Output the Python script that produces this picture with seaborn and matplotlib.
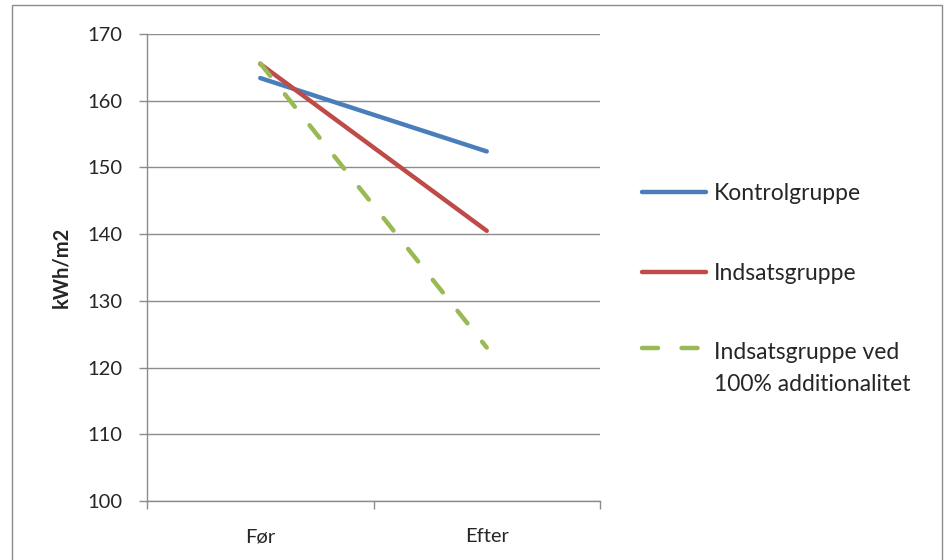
import matplotlib
matplotlib.use("Agg")
import matplotlib.pyplot as plt
import seaborn as sns
import pandas as pd
import numpy as np
from matplotlib.patches import Rectangle
from matplotlib.legend_handler import HandlerLine2D

categories = ["Før", "Efter"]
series_names = ["Kontrolgruppe", "Indsatsgruppe", "Indsatsgruppe ved\n100% additionalitet"]
kontrol = [163.4, 152.4]
indsats = [165.5, 140.5]
additional = [165.6, 123.0]
y_ticks = [100, 110, 120, 130, 140, 150, 160, 170]

rows = []
for name, vals in zip(series_names, [kontrol, indsats, additional]):
    for c, v in zip(categories, vals):
        rows.append({"periode": c, "kWh": v, "serie": name})
df = pd.DataFrame(rows)

sns.set_theme(style="white")
plt.rcParams["font.family"] = ["Lato", "DejaVu Sans"]

fig = plt.figure(figsize=(9.47, 5.6), dpi=100)
ax = fig.add_axes([147/947, 1 - 501/560, (600-147)/947, (501-34)/560])

LW = 3.2
colors = ["#4A7EBB", "#BE4B48", "#98B954"]
styles = ["solid", "solid", (0, (3.6, 5.3))]
for name, col, ls in zip(series_names, colors, styles):
    sub = df[df["serie"] == name]
    sns.lineplot(data=sub, x="periode", y="kWh", ax=ax, color=col, lw=LW,
                 label=name, sort=False)
    line = ax.get_lines()[-1]
    line.set_linestyle(ls)
    line.set_solid_capstyle("round")
    line.set_dash_capstyle("round")

ax.set_xlim(-0.5, 1.5)
ax.set_ylim(100, 170)
ax.set_yticks(y_ticks)
ax.set_xticks([0, 1])
ax.set_xticklabels(categories)
ax.set_xticks([-0.5, 0.5, 1.5], minor=True)
ax.grid(axis="y", color="#8C8C8C", lw=1.0)
ax.set_axisbelow(True)
for s in ["top", "right"]:
    ax.spines[s].set_visible(False)
for s in ["left", "bottom"]:
    ax.spines[s].set_color("#8C8C8C")
    ax.spines[s].set_linewidth(1.0)
ax.tick_params(axis="y", which="major", direction="out", length=6, color="#8C8C8C",
               width=1, labelsize=14.5, pad=12, left=True)
ax.tick_params(axis="x", which="major", length=0, labelsize=14.5, pad=19.5)
ax.tick_params(axis="x", which="minor", direction="out", length=6, color="#8C8C8C",
               width=1, bottom=True)
ax.set_xlabel("")
ax.set_ylabel("kWh/m2", fontsize=14.5, fontweight="bold", labelpad=11)


class HandlerShift(HandlerLine2D):
    def __init__(self, shift=0.0, **kw):
        super().__init__(**kw)
        self.shift = shift

    def create_artists(self, legend, orig_handle, xdescent, ydescent, width,
                       height, fontsize, trans):
        arts = super().create_artists(legend, orig_handle, xdescent, ydescent,
                                      width, height, fontsize, trans)
        for a in arts:
            a.set_ydata(np.asarray(a.get_ydata(), dtype=float) + self.shift)
        return arts


handles, labels = ax.get_legend_handles_labels()
leg = ax.legend(handles, labels, loc="upper left",
                bbox_to_anchor=(633/947, 1 - 174/560), bbox_transform=fig.transFigure,
                frameon=False, fontsize=16.5, handlelength=2.8, handletextpad=0.33,
                labelspacing=2.55, borderaxespad=0,
                handler_map={handles[2]: HandlerShift(shift=15.0)})
leg.get_texts()[2].set_linespacing(1.62)

fig.patches.append(Rectangle((12/947, -0.05), (942-12)/947, 1.05 - 5/560,
                             transform=fig.transFigure, fill=False,
                             edgecolor="#8C8C8C", lw=1.0))

fig.savefig("out.png", dpi=100, facecolor="white")
